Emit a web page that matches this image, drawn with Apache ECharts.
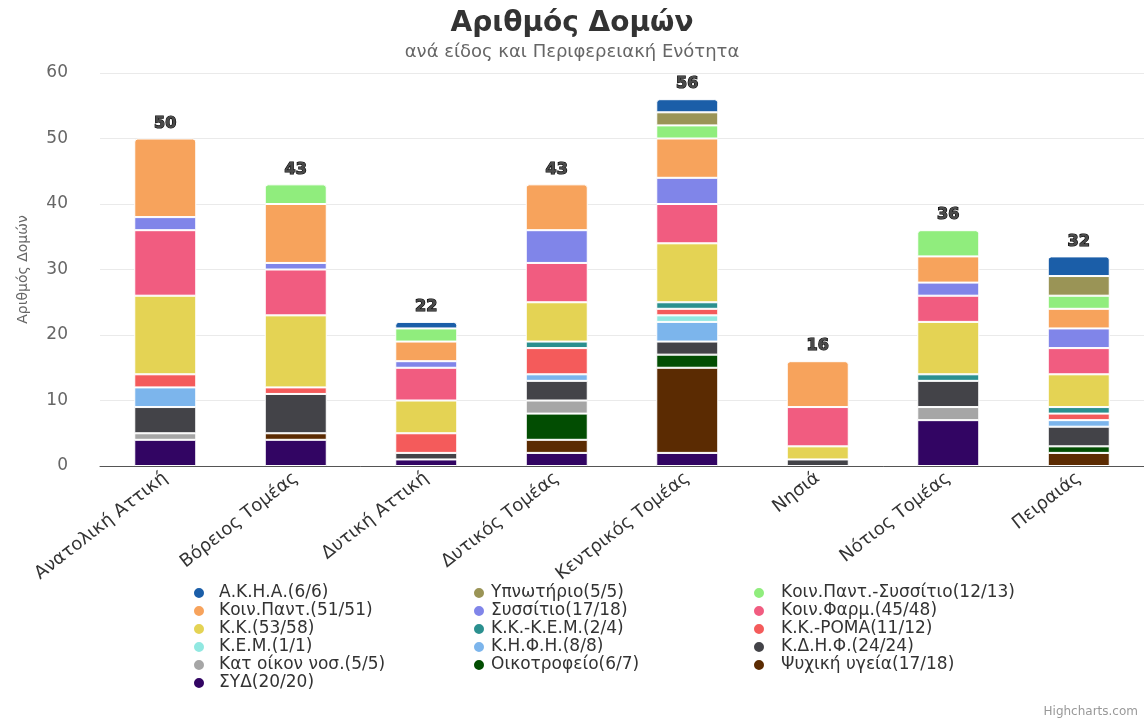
<!DOCTYPE html>
<html>
<head>
<meta charset="utf-8">
<script src="https://cdn.jsdelivr.net/npm/echarts@6/dist/echarts.min.js"></script>
<style>html,body{margin:0;padding:0;background:#fff}#c{width:1144px;height:722px}</style>
</head>
<body>
<div id="c"></div>
<script>
const categories = ['Ανατολική Αττική','Βόρειος Τομέας','Δυτική Αττική','Δυτικός Τομέας','Κεντρικός Τομέας','Νησιά','Νότιος Τομέας','Πειραιάς'];
const yTicks = [0, 60, 10];

// stack order bottom -> top
const syd        = [4,4,1,2,2,0,7,0];
const psyxiki    = [0,1,0,2,13,0,0,2];
const oikotrof   = [0,0,0,4,2,0,0,1];
const katOikon   = [1,0,0,2,0,0,2,0];
const kdhf       = [4,6,1,3,2,1,4,3];
const khfh       = [3,0,0,1,3,0,0,1];
const kem        = [0,0,0,0,1,0,0,0];
const kkRoma     = [2,1,3,4,1,0,0,1];
const kkKem      = [0,0,0,1,1,0,1,1];
const kk         = [12,11,5,6,9,2,8,5];
const koinFarm   = [10,7,5,6,6,6,4,4];
const syssitio   = [2,1,1,5,4,0,2,3];
const koinPant   = [12,9,3,7,6,7,4,3];
const pantSyss   = [0,3,2,0,2,0,4,2];
const ypnotirio  = [0,0,0,0,2,0,0,3];
const akha       = [0,0,1,0,2,0,0,3];

const seriesNames = ['ΣΥΔ(20/20)','Ψυχική υγεία(17/18)','Οικοτροφείο(6/7)','Κατ οίκον νοσ.(5/5)','Κ.Δ.Η.Φ.(24/24)','Κ.Η.Φ.Η.(8/8)','Κ.Ε.Μ.(1/1)','Κ.Κ.-ΡΟΜΑ(11/12)','Κ.Κ.-Κ.Ε.Μ.(2/4)','Κ.Κ.(53/58)','Κοιν.Φαρμ.(45/48)','Συσσίτιο(17/18)','Κοιν.Παντ.(51/51)','Κοιν.Παντ.-Συσσίτιο(12/13)','Υπνωτήριο(5/5)','Α.Κ.Η.Α.(6/6)'];
const seriesValues = [syd,psyxiki,oikotrof,katOikon,kdhf,khfh,kem,kkRoma,kkKem,kk,koinFarm,syssitio,koinPant,pantSyss,ypnotirio,akha];
const palette = ['#320563','#5b2b02','#024d02','#a6a6a6','#434348','#7cb5ec','#91e8e1','#f45b5b','#2b908f','#e4d354','#f15c80','#8085e9','#f7a35c','#90ed7d','#9a9456','#1b5ea8'];

// legend columns (Highcharts order)
const legendCol1 = ['Α.Κ.Η.Α.(6/6)','Κοιν.Παντ.(51/51)','Κ.Κ.(53/58)','Κ.Ε.Μ.(1/1)','Κατ οίκον νοσ.(5/5)','ΣΥΔ(20/20)'];
const legendCol2 = ['Υπνωτήριο(5/5)','Συσσίτιο(17/18)','Κ.Κ.-Κ.Ε.Μ.(2/4)','Κ.Η.Φ.Η.(8/8)','Οικοτροφείο(6/7)'];
const legendCol3 = ['Κοιν.Παντ.-Συσσίτιο(12/13)','Κοιν.Φαρμ.(45/48)','Κ.Κ.-ΡΟΜΑ(11/12)','Κ.Δ.Η.Φ.(24/24)','Ψυχική υγεία(17/18)'];

const FONT = 'DejaVu Sans';
const totals = categories.map((c, i) => seriesValues.reduce((s, arr) => s + arr[i], 0));
const topIndex = categories.map((c, i) => {
  let t = -1;
  seriesValues.forEach((arr, k) => { if (arr[i] > 0) t = k; });
  return t;
});

const series = seriesNames.map((name, k) => ({
  name: name,
  type: 'bar',
  stack: 'total',
  barWidth: 62,
  itemStyle: { color: palette[k], borderColor: '#ffffff', borderWidth: 1 },
  emphasis: { focus: 'none' },
  data: seriesValues[k].map((v, i) => {
    if (!v) return null;
    if (topIndex[i] === k) return { value: v, itemStyle: { borderRadius: [3, 3, 0, 0] } };
    return v;
  })
}));
series.push({
  name: 'Σύνολο',
  type: 'bar',
  stack: 'total',
  barWidth: 62,
  silent: true,
  itemStyle: { color: 'rgba(0,0,0,0)', borderWidth: 0 },
  tooltip: { show: false },
  data: categories.map(() => 0),
  label: {
    show: true,
    position: 'top',
    distance: 7,
    formatter: p => String(totals[p.dataIndex]),
    fontFamily: FONT,
    fontSize: 16,
    fontWeight: 'bold',
    color: '#4a4a4a',
    textBorderColor: '#000000',
    textBorderWidth: 1.2
  }
});

function legendCol(names, left, pad) {
  return {
    orient: 'vertical',
    left: left,
    top: 579,
    itemWidth: 12,
    itemHeight: 12,
    itemGap: 0,
    icon: 'circle',
    data: names,
    selectedMode: true,
    textStyle: { fontFamily: FONT, fontSize: 17, color: '#333333', lineHeight: 18, padding: [0, 0, 0, pad] }
  };
}

const chart = echarts.init(document.getElementById('c'), null, { renderer: 'canvas' });
chart.setOption({
  animation: false,
  color: palette,
  title: [
    { text: 'Αριθμός Δομών', left: 'center', top: 5, textStyle: { fontFamily: FONT, fontSize: 28, fontWeight: 'bold', color: '#333333' } },
    { text: 'ανά είδος και Περιφερειακή Ενότητα', left: 'center', top: 38, textStyle: { fontFamily: FONT, fontSize: 18, fontWeight: 'normal', color: '#666666' } }
  ],
  tooltip: { trigger: 'item' },
  legend: [legendCol(legendCol1, 187, 9), legendCol(legendCol2, 467, 1), legendCol(legendCol3, 747, 11)],
  grid: { left: 100, right: -6, top: 73, bottom: 256, containLabel: false },
  xAxis: {
    type: 'category',
    data: categories,
    axisTick: { show: false },
    axisLine: { lineStyle: { color: '#555555', width: 1 } },
    axisLabel: { rotate: 38, margin: 10, fontFamily: FONT, fontSize: 18, color: '#333333', interval: 0 }
  },
  yAxis: {
    type: 'value',
    min: yTicks[0],
    max: yTicks[1],
    interval: yTicks[2],
    name: 'Αριθμός Δομών',
    nameLocation: 'middle',
    nameGap: 70,
    nameTextStyle: { fontFamily: FONT, fontSize: 14, color: '#666666' },
    axisLine: { show: false },
    axisTick: { show: false },
    axisLabel: { margin: 32, fontFamily: FONT, fontSize: 17, color: '#666666' },
    splitLine: { lineStyle: { color: '#eaeaea', width: 1 } }
  },
  graphic: [
    { type: 'text', right: 6, bottom: 4, style: { text: 'Highcharts.com', fontFamily: FONT, fontSize: 12, fill: '#999999' } }
  ],
  series: series
});
</script>
</body>
</html>
